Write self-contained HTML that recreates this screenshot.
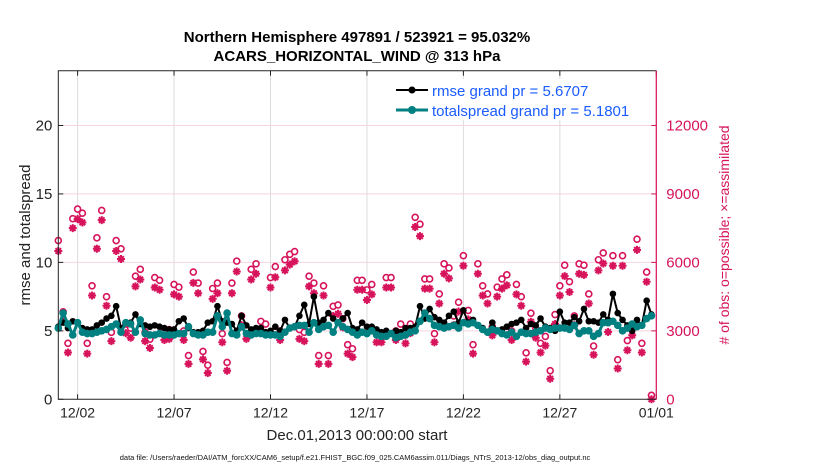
<!DOCTYPE html>
<html><head><meta charset="utf-8"><style>
body{margin:0;background:#fff;}
svg{display:block;font-family:"Liberation Sans",sans-serif;}
</style></head><body>
<svg id="chart" width="830" height="470" viewBox="0 0 830 470" xmlns="http://www.w3.org/2000/svg">
<text x="357" y="42" text-anchor="middle" font-size="15" font-weight="bold">Northern Hemisphere 497891 / 523921 = 95.032%</text>
<text x="357" y="61" text-anchor="middle" font-size="15" font-weight="bold">ACARS_HORIZONTAL_WIND @ 313 hPa</text>
<g id="grid"></g><g id="marks"></g><g id="axes"></g>
<text transform="translate(30,235) rotate(-90)" text-anchor="middle" font-size="15" fill="#222">rmse and totalspread</text>
<text transform="translate(729,235) rotate(-90)" text-anchor="middle" font-size="14" fill="#d6135b"># of obs: o=possible; ×=assimilated</text>
<text x="357" y="440" text-anchor="middle" font-size="15" fill="#222">Dec.01,2013 00:00:00 start</text>
<text x="355" y="460" text-anchor="middle" font-size="7.5" fill="#111">data file: /Users/raeder/DAI/ATM_forcXX/CAM6_setup/f.e21.FHIST_BGC.f09_025.CAM6assim.011/Diags_NTrS_2013-12/obs_diag_output.nc</text>
<g>
<rect x="390" y="79" width="262" height="41" fill="#fff"/>
<line x1="396" y1="90" x2="428" y2="90" stroke="#000" stroke-width="2"/><circle cx="412" cy="90" r="3.5" fill="#000"/>
<text x="432" y="96" font-size="15" fill="#1a5cff">rmse grand pr = 5.6707</text>
<line x1="396" y1="110" x2="428" y2="110" stroke="#008080" stroke-width="3"/><circle cx="412" cy="110" r="4" fill="#008080"/>
<text x="432" y="116" font-size="15" fill="#1a5cff">totalspread grand pr = 5.1801</text>
</g>
</svg>
<script>
const rmse=[5.3,5.6,5.2,5.7,5.6,5.2,5.1,5.1,5.4,5.6,5.9,6.1,6.8,5.2,5.6,5.6,6.2,5.5,5.4,5.3,5.4,5.3,5.2,5.1,5.1,5.7,5.9,5.2,4.9,4.9,5.0,5.6,5.7,6.8,5.7,5.6,5.5,5.0,6.1,5.4,5.1,5.2,5.2,4.9,5.0,5.3,5.0,5.8,5.2,5.3,6.1,6.9,5.5,7.5,5.6,5.8,6.3,5.9,5.6,5.9,6.3,5.2,5.1,5.6,5.3,5.3,5.1,4.9,5.0,4.8,5.0,4.9,5.2,5.2,5.3,6.8,5.9,6.6,6.0,5.8,5.6,6.1,6.4,5.6,6.5,5.6,5.8,5.4,5.2,4.9,5.6,5.0,5.1,5.3,5.5,5.6,5.8,5.2,5.5,5.4,5.9,5.3,5.2,5.0,6.4,5.6,5.6,6.0,5.7,6.6,5.7,5.7,5.6,6.2,5.8,7.7,6.3,5.8,5.4,5.0,5.8,5.4,7.2,6.2];
const spread=[5.2,6.3,5.5,4.7,5.6,4.9,4.8,4.8,4.9,5.0,5.1,5.3,5.5,4.9,5.6,5.5,4.9,5.8,4.8,4.7,4.7,4.8,4.7,4.7,4.7,4.8,4.8,5.3,4.8,4.7,4.7,4.9,4.9,6.1,5.3,6.3,4.8,4.7,5.3,4.8,4.7,4.8,4.8,4.7,4.7,4.7,4.6,4.9,5.2,5.3,5.4,5.4,4.9,5.6,5.1,5.3,5.4,4.9,5.6,5.3,5.1,4.9,4.7,4.9,4.8,5.0,4.7,4.6,4.6,4.8,4.5,4.6,4.7,4.9,5.0,5.7,6.3,5.9,5.4,5.3,5.2,5.3,5.4,5.2,5.6,5.5,5.6,5.4,5.1,4.9,5.1,5.0,4.8,4.7,4.9,4.6,4.9,4.8,4.8,4.9,5.0,5.2,5.1,5.2,5.2,5.2,5.1,5.4,4.8,5.0,5.0,4.6,4.8,5.6,5.6,5.7,5.4,5.0,5.2,5.5,5.3,5.4,5.9,6.1];
const possible=[6780,3660,2280,7740,8160,7980,2280,4800,6900,8100,4320,2760,6780,6420,3120,2940,5220,5520,2760,2460,5160,5040,2820,2880,4860,4740,2820,1740,5400,4920,1920,1320,4680,4920,2700,1440,4920,5880,3480,2880,5520,5760,3240,3120,5160,5640,2820,5940,6180,6300,2880,2760,5220,4920,1740,4800,1740,3900,3960,3360,2220,2040,5040,5040,4620,4860,2700,2700,5160,5160,2820,3120,2640,3120,7800,7500,5100,5100,2700,4440,5760,5580,3480,4080,6120,3720,2220,5760,4800,4440,3000,4740,5100,5280,2820,4860,4320,1860,3600,2940,2280,2580,1080,3540,4800,5700,4980,3480,5760,5700,4440,2160,5940,6240,3180,6120,1560,6120,2400,3000,6840,2280,5400,0];
const assimilated=[6500,3450,2050,7500,7900,7750,2000,4550,6600,7850,4100,2550,6500,6150,2900,2700,4950,5250,2550,2250,4900,4800,2600,2650,4600,4500,2600,1550,5100,4650,1750,1150,4400,4650,2500,1250,4650,5600,3250,2650,5250,5500,3000,2900,4900,5350,2600,5650,5900,6050,2650,2550,4950,4650,1550,4550,1550,3650,3750,3150,2000,1850,4800,4800,4350,4600,2500,2500,4900,4900,2600,2900,2450,2900,7550,7150,4850,4850,2500,4200,5500,5300,3250,3850,5850,3500,2000,5500,4550,4200,2800,4500,4850,5000,2600,4600,4100,1650,3400,2700,2050,2350,900,3300,4550,5400,4700,3250,5500,5450,4200,1950,5650,5950,2950,5850,1350,5850,2150,2800,6550,2050,5150,0];
const xTickLabels=["12/02","12/07","12/12","12/17","12/22","12/27","01/01"];
const xTickDays=[1,6,11,16,21,26,31];
const yTicks=[0,5,10,15,20];
const y2Ticks=[0,3000,6000,9000,12000];

const L=58.3,R=656.3,T=70.7,B=399.3;
const xs=d=>L+(R-L)*d/31;
const ys=v=>B-(B-T)*v/24;
const y2=v=>B-(B-T)*v/14400;
const NS="http://www.w3.org/2000/svg";
function mk(tag,attrs,parent){const e=document.createElementNS(NS,tag);for(const k in attrs)e.setAttribute(k,attrs[k]);parent.appendChild(e);return e;}
const grid=document.getElementById('grid'),marks=document.getElementById('marks'),axes=document.getElementById('axes');
xTickDays.forEach((d,i)=>{
  const g=mk('line',{x1:xs(d),x2:xs(d),y1:T,y2:B,stroke:'#dcdcdc','stroke-width':1},grid);
  
  
  mk('line',{x1:xs(d),x2:xs(d),y1:B,y2:B-5,stroke:'#222'},axes);
  mk('line',{x1:xs(d),x2:xs(d),y1:T,y2:T+5,stroke:'#222'},axes);
  const t=mk('text',{x:xs(d),y:B+18,'text-anchor':'middle','font-size':14,fill:'#222'},axes);
  t.textContent=xTickLabels[i];
  
  
});
yTicks.forEach(v=>{
  if(v>0){const g=mk('line',{x1:L,x2:R,y1:ys(v),y2:ys(v),stroke:'#f6d3df','stroke-width':1},grid);
  
  }
  mk('line',{x1:L,x2:L+5,y1:ys(v),y2:ys(v),stroke:'#222'},axes);
  const t=mk('text',{x:L-6,y:ys(v)+5,'text-anchor':'end','font-size':15,fill:'#222'},axes);
  t.textContent=v;
  
  
});
y2Ticks.forEach(v=>{
  mk('line',{x1:R,x2:R-5,y1:y2(v),y2:y2(v),stroke:'#d6135b'},axes);
  const t=mk('text',{x:R+10,y:y2(v)+5,'font-size':15,fill:'#d6135b'},axes);
  t.textContent=v;
  
  
});
mk('polyline',{points:`${R},${T} ${L},${T} ${L},${B} ${R},${B}`,fill:'none',stroke:'#222','stroke-width':1},axes);
mk('line',{x1:R,x2:R,y1:T,y2:B,stroke:'#d6135b','stroke-width':1.2},axes);
const dt=0.25;
possible.forEach((v,i)=>{
  const c=mk('circle',{cx:xs(i*dt),cy:y2(v)-4,r:3,fill:'#fff',stroke:'#d6135b','stroke-width':1.6},marks);
  
  
});
assimilated.forEach((v,i)=>{
  const x=xs(i*dt),y=y2(v),s=4;
  const d=`M${x-s},${y}H${x+s}M${x},${y-s}V${y+s}M${x-s*0.7},${y-s*0.7}L${x+s*0.7},${y+s*0.7}M${x-s*0.7},${y+s*0.7}L${x+s*0.7},${y-s*0.7}`;
  const p=mk('path',{d:d,stroke:'#d6135b','stroke-width':2,fill:'none'},marks);
  
  
});
function series(vals,color,w,r,name){
  const pts=vals.map((v,i)=>xs(i*dt)+','+ys(v)).join(' ');
  const p=mk('polyline',{points:pts,fill:'none',stroke:color,'stroke-width':w,'stroke-linejoin':'round'},marks);
  
  
  vals.forEach((v,i)=>{
    const c=mk('circle',{cx:xs(i*dt),cy:ys(v),r:r,fill:color},marks);
    
    
  });
}
series(rmse,'#000',2,3.3,'rmse');
series(spread,'#008080',3,3.8,'totalspread');
</script>
</body></html>
